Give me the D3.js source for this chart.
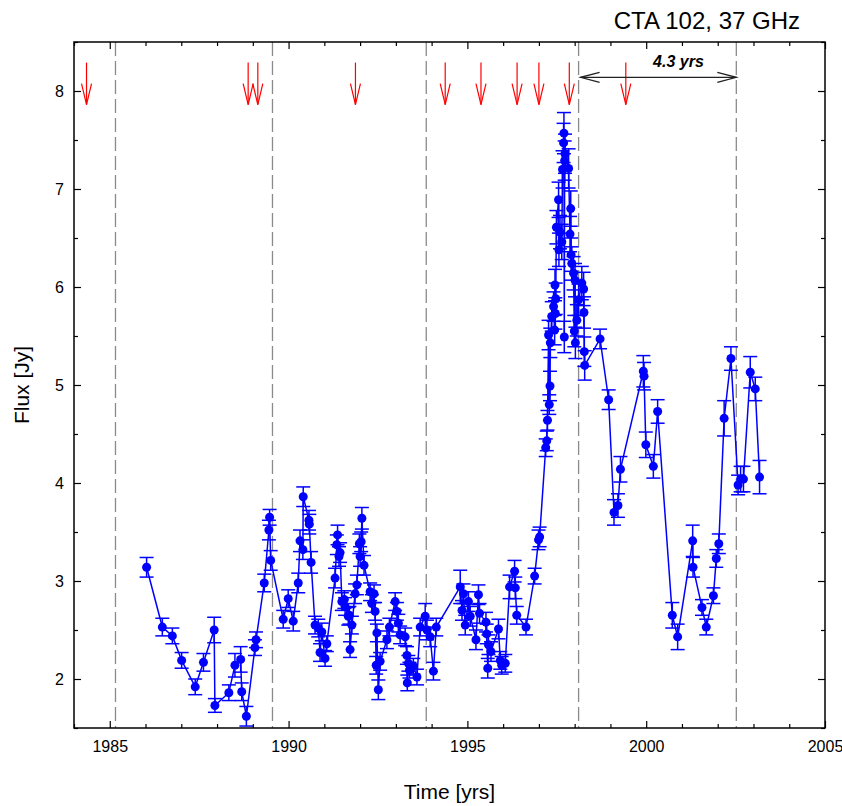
<!DOCTYPE html>
<html>
<head>
<meta charset="utf-8">
<script src="https://cdn.jsdelivr.net/npm/d3@7"></script>
<style>
  html, body { margin: 0; padding: 0; background: #fff; }
  svg { display: block; font-family: "Liberation Sans", Arial, sans-serif; }
</style>
</head>
<body>
<svg id="chart" width="842" height="806"></svg>
<script>
// CTA 102 light curve at 37 GHz: epoch (yr), flux density (Jy), 1-sigma error (Jy)
const obsYear = [
  1986.03, 1986.47, 1986.75, 1987.01, 1987.39, 1987.62, 1987.92, 1987.94, 1988.33, 1988.50,
  1988.66, 1988.69, 1988.82, 1989.06, 1989.09, 1989.32, 1989.45, 1989.47, 1989.50, 1989.85,
  1989.99, 1990.13, 1990.27, 1990.32, 1990.40, 1990.41, 1990.57, 1990.58, 1990.63, 1990.74,
  1990.83, 1990.88, 1990.93, 1991.02, 1991.07, 1991.30, 1991.35, 1991.37, 1991.41, 1991.44,
  1991.49, 1991.56, 1991.58, 1991.67, 1991.70, 1991.72, 1991.77, 1991.86, 1991.91, 1991.98,
  1992.00, 1992.03, 1992.05, 1992.11, 1992.28, 1992.33, 1992.39, 1992.42, 1992.45, 1992.47,
  1992.51, 1992.56, 1992.75, 1992.82, 1992.98, 1993.03, 1993.07, 1993.12, 1993.26, 1993.31,
  1993.32, 1993.35, 1993.38, 1993.49, 1993.59, 1993.68, 1993.82, 1993.87, 1993.96, 1994.05,
  1994.13, 1994.80, 1994.85, 1994.89, 1994.94, 1995.03, 1995.08, 1995.24, 1995.31, 1995.34,
  1995.52, 1995.54, 1995.57, 1995.59, 1995.66, 1995.87, 1995.92, 1995.96, 1996.06, 1996.18,
  1996.32, 1996.34, 1996.38, 1996.64, 1996.88, 1996.99, 1997.02, 1997.19, 1997.22, 1997.24,
  1997.27, 1997.29, 1997.31, 1997.32, 1997.36, 1997.41, 1997.44, 1997.45, 1997.46, 1997.47,
  1997.49, 1997.55, 1997.56, 1997.59, 1997.64, 1997.66, 1997.69, 1997.70, 1997.71, 1997.72,
  1997.73, 1997.83, 1997.87, 1997.89, 1997.90, 1997.92, 1997.97, 1997.99, 1998.01, 1998.02,
  1998.06, 1998.11, 1998.20, 1998.25, 1998.26, 1998.27, 1998.28, 1998.71, 1998.95, 1999.10,
  1999.21, 1999.28, 1999.92, 1999.94, 1999.99, 2000.20, 2000.32, 2000.73, 2000.88, 2001.30,
  2001.31, 2001.56, 2001.68, 2001.88, 2001.96, 2002.03, 2002.18, 2002.37, 2002.57, 2002.64,
  2002.72, 2002.91, 2003.05, 2003.17
];
const obsFlux = [
  3.14, 2.53, 2.44, 2.19, 1.92, 2.17, 2.50, 1.73, 1.86, 2.14,
  2.20, 1.87, 1.62, 2.32, 2.40, 2.98, 3.52, 3.65, 3.21, 2.61,
  2.82, 2.59, 2.98, 3.41, 3.32, 3.86, 3.62, 3.58, 3.19, 2.55,
  2.52, 2.27, 2.48, 2.21, 2.36, 3.03, 3.37, 3.47, 3.25, 3.29,
  2.79, 2.81, 2.74, 2.64, 2.65, 2.30, 2.55, 2.87, 2.96, 3.38,
  3.25, 3.40, 3.64, 3.16, 2.89, 2.77, 2.87, 2.69, 2.14, 2.47,
  1.89, 2.18, 2.40, 2.53, 2.79, 2.69, 2.57, 2.45, 2.43, 2.24,
  1.96, 2.16, 2.09, 2.13, 2.02, 2.53, 2.64, 2.50, 2.43, 2.08,
  2.53, 2.94, 2.70, 2.87, 2.55, 2.79, 2.64, 2.40, 2.86, 2.67,
  2.58, 2.46, 2.11, 2.35, 2.28, 2.51, 2.19, 2.14, 2.16, 2.94,
  3.10, 2.93, 2.65, 2.53, 3.05, 3.42, 3.45, 4.36, 4.43, 4.64,
  5.51, 4.80, 4.99, 5.43, 5.70, 5.80, 5.56, 6.02, 5.73, 5.88,
  6.61, 6.89, 6.38, 6.56, 6.46, 7.20, 7.47, 7.57, 5.49, 7.29,
  7.36, 7.21, 6.54, 6.80, 6.33, 6.24, 6.14, 5.55, 6.07, 5.43,
  5.66, 5.87, 6.04, 5.98, 5.74, 5.34, 5.20, 5.47, 4.85, 3.70,
  3.77, 4.14, 5.14, 5.09, 4.39, 4.17, 4.73, 2.65, 2.43, 3.41,
  3.14, 2.73, 2.53, 2.85, 3.23, 3.38, 4.66, 5.27, 3.98, 4.04,
  4.04, 5.13, 4.96, 4.06
];
const obsErr = [
  0.10, 0.09, 0.08, 0.08, 0.08, 0.09, 0.13, 0.07, 0.08, 0.12,
  0.13, 0.09, 0.10, 0.08, 0.08, 0.09, 0.10, 0.08, 0.10, 0.09,
  0.09, 0.10, 0.10, 0.11, 0.10, 0.10, 0.10, 0.10, 0.11, 0.09,
  0.09, 0.09, 0.09, 0.08, 0.08, 0.10, 0.10, 0.10, 0.10, 0.10,
  0.09, 0.09, 0.09, 0.09, 0.09, 0.08, 0.09, 0.10, 0.10, 0.10,
  0.10, 0.10, 0.11, 0.10, 0.09, 0.09, 0.09, 0.09, 0.09, 0.09,
  0.10, 0.09, 0.09, 0.09, 0.09, 0.09, 0.09, 0.09, 0.09, 0.09,
  0.08, 0.08, 0.08, 0.08, 0.08, 0.09, 0.13, 0.10, 0.10, 0.09,
  0.09, 0.17, 0.10, 0.10, 0.10, 0.10, 0.10, 0.10, 0.10, 0.10,
  0.10, 0.10, 0.10, 0.10, 0.10, 0.10, 0.09, 0.09, 0.09, 0.12,
  0.11, 0.11, 0.09, 0.08, 0.08, 0.10, 0.10, 0.09, 0.10, 0.10,
  0.15, 0.10, 0.15, 0.15, 0.15, 0.15, 0.15, 0.16, 0.16, 0.16,
  0.17, 0.18, 0.17, 0.17, 0.18, 0.19, 0.20, 0.21, 0.16, 0.20,
  0.20, 0.20, 0.18, 0.18, 0.17, 0.17, 0.17, 0.16, 0.17, 0.16,
  0.16, 0.16, 0.17, 0.17, 0.16, 0.15, 0.15, 0.10, 0.10, 0.13,
  0.12, 0.13, 0.16, 0.14, 0.13, 0.12, 0.12, 0.13, 0.13, 0.16,
  0.10, 0.08, 0.08, 0.08, 0.09, 0.10, 0.18, 0.12, 0.10, 0.13,
  0.13, 0.16, 0.12, 0.17
];

// Flare onsets (red arrows) and the 4.3-yr periodicity markers (dashed lines)
const flareEpochs = [1984.35, 1988.87, 1989.14, 1991.87, 1994.38, 1995.38, 1996.39, 1997.00, 1997.85, 1999.43];
const periodEpochs = [1985.16, 1989.55, 1993.85, 1998.11, 2002.52];
const periodLabel = "4.3 yrs";

const xMajorTicks = [1985, 1990, 1995, 2000, 2005];
const yMajorTicks = [2, 3, 4, 5, 6, 7, 8];

const titleText = "CTA 102, 37 GHz";
const xTitle = "Time [yrs]";
const yTitle = "Flux [Jy]";

// ---- layout ----
const L = 74, R = 825, T = 42, B = 728;
const x = d3.scaleLinear().domain([1984, 2005]).range([L, R]);
const y = d3.scaleLinear().domain([1.5, 8.5]).range([B, T]);
const xMinorTicks = d3.range(1984, 2006, 1).filter(v => !xMajorTicks.includes(v));
const yMinorTicks = d3.range(1.5, 8.51, 0.5).filter(v => !yMajorTicks.includes(v));

const svg = d3.select("#chart");
const blue = "#0000ff";

svg.append("defs").append("clipPath").attr("id", "plotClip")
  .append("rect").attr("x", L).attr("y", T).attr("width", R - L).attr("height", B - T);

// period markers
svg.append("g").selectAll("line").data(periodEpochs).join("line")
  .attr("x1", d => x(d)).attr("x2", d => x(d))
  .attr("y1", T).attr("y2", B)
  .attr("stroke", "#8a8a8a").attr("stroke-width", 1.3)
  .attr("stroke-dasharray", "14,5");

// data
const obs = obsYear.map((t, i) => ({ t, f: obsFlux[i], e: obsErr[i] }));
const gData = svg.append("g").attr("clip-path", "url(#plotClip)");

gData.append("path").datum(obs)
  .attr("fill", "none").attr("stroke", blue).attr("stroke-width", 1.5)
  .attr("d", d3.line().x(d => x(d.t)).y(d => y(d.f)));

const capW = 7;
const eb = gData.append("g").attr("stroke", blue).attr("stroke-width", 1.5);
eb.selectAll("line.v").data(obs).join("line").attr("class", "v")
  .attr("x1", d => x(d.t)).attr("x2", d => x(d.t))
  .attr("y1", d => y(d.f - d.e)).attr("y2", d => y(d.f + d.e));
eb.selectAll("line.top").data(obs).join("line").attr("class", "top")
  .attr("x1", d => x(d.t) - capW).attr("x2", d => x(d.t) + capW)
  .attr("y1", d => y(d.f + d.e)).attr("y2", d => y(d.f + d.e));
eb.selectAll("line.bot").data(obs).join("line").attr("class", "bot")
  .attr("x1", d => x(d.t) - capW).attr("x2", d => x(d.t) + capW)
  .attr("y1", d => y(d.f - d.e)).attr("y2", d => y(d.f - d.e));

gData.append("g").selectAll("circle").data(obs).join("circle")
  .attr("cx", d => x(d.t)).attr("cy", d => y(d.f)).attr("r", 4.5)
  .attr("fill", blue);

// flare arrows
const arrowTop = 8.29, arrowTip = 7.86;
const fa = svg.append("g").attr("stroke", "#ff0000").attr("stroke-width", 1.2).attr("fill", "none");
flareEpochs.forEach(t => {
  const xp = x(t), y0 = y(arrowTop), y1 = y(arrowTip);
  fa.append("line").attr("x1", xp).attr("x2", xp).attr("y1", y0).attr("y2", y1);
  fa.append("polyline").attr("points", `${xp - 5},${y1 - 21} ${xp},${y1} ${xp + 5},${y1 - 21}`);
});

// period double arrow
const pa = svg.append("g").attr("stroke", "#222").attr("stroke-width", 1.3).attr("fill", "none");
const ax0 = x(periodEpochs[3]) + 2, ax1 = x(periodEpochs[4]), ay = y(8.14);
pa.append("line").attr("x1", ax0).attr("x2", ax1).attr("y1", ay).attr("y2", ay);
pa.append("polyline").attr("points", `${ax0 + 19},${ay - 5} ${ax0},${ay} ${ax0 + 19},${ay + 5}`);
pa.append("polyline").attr("points", `${ax1 - 19},${ay - 5} ${ax1},${ay} ${ax1 - 19},${ay + 5}`);
svg.append("text").attr("x", (ax0 + ax1) / 2 + 20).attr("y", y(8.25))
  .attr("text-anchor", "middle").attr("font-size", 16)
  .attr("font-weight", "bold").attr("font-style", "italic")
  .text(periodLabel);

// axes: inward ticks on all four sides
function styleAxis(g) {
  g.select(".domain").remove();
  g.selectAll(".tick line").attr("stroke", "#000").attr("stroke-width", 1.2);
  g.selectAll(".tick text").attr("font-size", 16).attr("fill", "#000")
    .attr("font-family", "'Liberation Sans', Arial, sans-serif");
}
svg.append("g").attr("transform", `translate(0,${B})`)
  .call(d3.axisBottom(x).tickValues(xMajorTicks).tickFormat(d3.format("d")).tickSize(-7).tickPadding(13))
  .call(styleAxis);
svg.append("g").attr("transform", `translate(0,${B})`)
  .call(d3.axisBottom(x).tickValues(xMinorTicks).tickFormat("").tickSize(-4))
  .call(styleAxis);
svg.append("g").attr("transform", `translate(0,${T})`)
  .call(d3.axisTop(x).tickValues(xMajorTicks).tickFormat("").tickSize(-7))
  .call(styleAxis);
svg.append("g").attr("transform", `translate(0,${T})`)
  .call(d3.axisTop(x).tickValues(xMinorTicks).tickFormat("").tickSize(-4))
  .call(styleAxis);
svg.append("g").attr("transform", `translate(${L},0)`)
  .call(d3.axisLeft(y).tickValues(yMajorTicks).tickFormat(d3.format("d")).tickSize(-7).tickPadding(10))
  .call(styleAxis);
svg.append("g").attr("transform", `translate(${L},0)`)
  .call(d3.axisLeft(y).tickValues(yMinorTicks).tickFormat("").tickSize(-4))
  .call(styleAxis);
svg.append("g").attr("transform", `translate(${R},0)`)
  .call(d3.axisRight(y).tickValues(yMajorTicks).tickFormat("").tickSize(-7))
  .call(styleAxis);
svg.append("g").attr("transform", `translate(${R},0)`)
  .call(d3.axisRight(y).tickValues(yMinorTicks).tickFormat("").tickSize(-4))
  .call(styleAxis);

// frame
svg.append("rect").attr("x", L).attr("y", T).attr("width", R - L).attr("height", B - T)
  .attr("fill", "none").attr("stroke", "#000").attr("stroke-width", 1.5);

// titles
svg.append("text").attr("x", 800).attr("y", 29).attr("text-anchor", "end")
  .attr("font-size", 24).text(titleText);
svg.append("text").attr("x", (L + R) / 2).attr("y", 799).attr("text-anchor", "middle")
  .attr("font-size", 21).text(xTitle);
svg.append("text").attr("transform", `translate(29,${(T + B) / 2}) rotate(-90)`)
  .attr("text-anchor", "middle").attr("font-size", 21).text(yTitle);
</script>
</body>
</html>
